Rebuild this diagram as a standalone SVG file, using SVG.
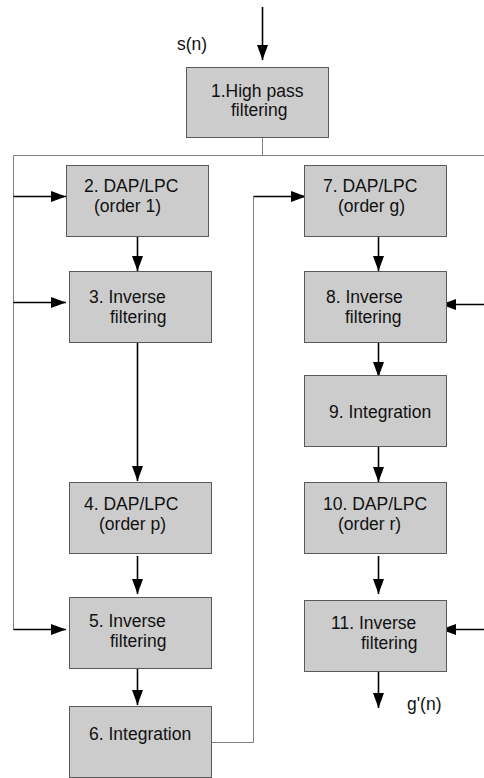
<svg xmlns="http://www.w3.org/2000/svg" width="484" height="778" viewBox="0 0 484 778">
  <style>
    .box { fill: #cccccc; stroke: #5a5a5a; stroke-width: 1; }
    .lbl { font-family: "Liberation Sans", Arial, sans-serif; font-size: 17.5px; fill: #111111; }
    .wire { fill: none; stroke: #808080; stroke-width: 1; }
    .arrow { fill: none; stroke: #000000; stroke-width: 1.6; marker-end: url(#head); }
  </style>
  <defs>
    <marker id="head" viewBox="0 0 15 11" refX="15" refY="5.5" markerWidth="15" markerHeight="11" markerUnits="userSpaceOnUse" orient="auto">
      <path d="M0,0 L15,5.5 L0,11 z" fill="#000000"/>
    </marker>
  </defs>

  <rect width="484" height="778" fill="#ffffff"/>

  <!-- connectors -->
  <g id="connectors">
    <path class="wire" d="M262.5,137 V155.5"/>
    <path class="wire" d="M13.5,155.5 H484"/>
    <path class="wire" d="M13.5,155.5 V629.5"/>
    <path class="wire" d="M211,742.5 H253.5 V196.5"/>

    <path class="arrow" d="M262.5,7 V60"/>
    <path class="arrow" d="M13.5,196.5 H66"/>
    <path class="arrow" d="M253.5,196.5 H306"/>
    <path class="arrow" d="M137.5,236 V271"/>
    <path class="arrow" d="M378.5,236 V271"/>
    <path class="arrow" d="M13.5,302.5 H66"/>
    <path class="arrow" d="M484,304.5 H441"/>
    <path class="arrow" d="M137.5,342 V481"/>
    <path class="arrow" d="M378.5,342 V377"/>
    <path class="arrow" d="M378.5,446 V482"/>
    <path class="arrow" d="M137.5,556 V594"/>
    <path class="arrow" d="M378.5,556 V594"/>
    <path class="arrow" d="M13.5,629.5 H66"/>
    <path class="arrow" d="M484,629.5 H441"/>
    <path class="arrow" d="M137.5,668 V705"/>
    <path class="arrow" d="M378.5,671 V708"/>

    <text class="lbl" x="177" y="50">s(n)</text>
    <text class="lbl" x="407" y="710">g'(n)</text>
  </g>

  <g id="n1">
    <rect class="box" x="186.5" y="67.5" width="142" height="70"/>
    <text class="lbl" x="211" y="97">1.High pass</text>
    <text class="lbl" x="231" y="116">filtering</text>
  </g>
  <g id="n2">
    <rect class="box" x="66.5" y="165.5" width="142" height="71"/>
    <text class="lbl" x="84" y="192">2. DAP/LPC</text>
    <text class="lbl" x="94" y="212">(order 1)</text>
  </g>
  <g id="n3">
    <rect class="box" x="69.5" y="271.5" width="142" height="71"/>
    <text class="lbl" x="89" y="303">3. Inverse</text>
    <text class="lbl" x="110" y="323">filtering</text>
  </g>
  <g id="n4">
    <rect class="box" x="69.5" y="482.5" width="142" height="71"/>
    <text class="lbl" x="84" y="510">4. DAP/LPC</text>
    <text class="lbl" x="99" y="530">(order p)</text>
  </g>
  <g id="n5">
    <rect class="box" x="69.5" y="597.5" width="142" height="71"/>
    <text class="lbl" x="89" y="627">5. Inverse</text>
    <text class="lbl" x="110" y="647">filtering</text>
  </g>
  <g id="n6">
    <rect class="box" x="69.5" y="706.5" width="142" height="71"/>
    <text class="lbl" x="89" y="740">6. Integration</text>
  </g>
  <g id="n7">
    <rect class="box" x="304.5" y="165.5" width="142" height="71"/>
    <text class="lbl" x="323" y="192">7. DAP/LPC</text>
    <text class="lbl" x="338" y="212">(order g)</text>
  </g>
  <g id="n8">
    <rect class="box" x="304.5" y="271.5" width="142" height="71"/>
    <text class="lbl" x="326" y="303">8. Inverse</text>
    <text class="lbl" x="345" y="323">filtering</text>
  </g>
  <g id="n9">
    <rect class="box" x="304.5" y="375.5" width="142" height="71"/>
    <text class="lbl" x="329" y="418">9. Integration</text>
  </g>
  <g id="n10">
    <rect class="box" x="304.5" y="482.5" width="142" height="71"/>
    <text class="lbl" x="323" y="510">10. DAP/LPC</text>
    <text class="lbl" x="338" y="530">(order r)</text>
  </g>
  <g id="n11">
    <rect class="box" x="304.5" y="600.5" width="142" height="71"/>
    <text class="lbl" x="331" y="629">11. Inverse</text>
    <text class="lbl" x="361" y="649">filtering</text>
  </g>
</svg>
